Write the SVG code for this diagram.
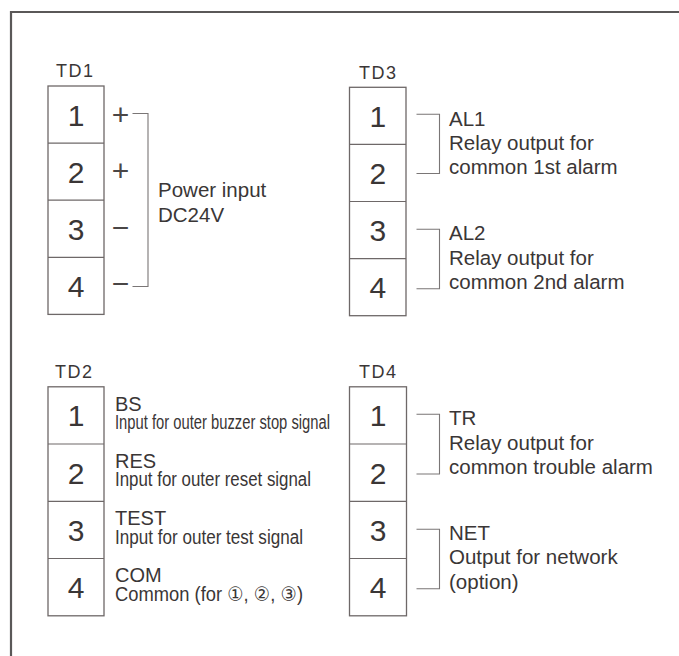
<svg xmlns="http://www.w3.org/2000/svg" width="679" height="656" viewBox="0 0 679 656">
<style>
.frame{fill:none;stroke:#5a5858;stroke-width:2.2}
.box{fill:#fff;stroke:#6e6868;stroke-width:1.3}
.div{stroke:#6e6868;stroke-width:1.2}
.br{fill:none;stroke:#7a7676;stroke-width:1.1}
text{font-family:"Liberation Sans",Arial,sans-serif;fill:#3a3636}
.lbl{font-size:18px;letter-spacing:1.5px}
.num{font-size:30px;text-anchor:middle}
.sgn{font-size:30px;text-anchor:middle;fill:#4a4646}
.t{font-size:20.5px}
.h{font-size:20px}
.d{font-size:20px}
.c{font-family:"Liberation Sans","DejaVu Sans",sans-serif}
</style>
<rect width="679" height="656" fill="#fff"/>
<path class="frame" d="M11,656 V12 H679"/>

<g id="td1">
<text class="lbl" x="56" y="77">TD1</text>
<rect class="box" x="48" y="86" width="56" height="228.4"/>
<line class="div" x1="48" y1="143.1" x2="104" y2="143.1"/>
<line class="div" x1="48" y1="200.2" x2="104" y2="200.2"/>
<line class="div" x1="48" y1="257.3" x2="104" y2="257.3"/>
<text class="num" x="76" y="125.5">1</text>
<text class="num" x="76" y="182.6">2</text>
<text class="num" x="76" y="239.7">3</text>
<text class="num" x="76" y="296.8">4</text>
<text class="sgn" x="120.5" y="124.5">+</text>
<text class="sgn" x="120.5" y="181">+</text>
<text class="sgn" x="120.5" y="237.5">−</text>
<text class="sgn" x="120.5" y="294">−</text>
<text class="t" x="158" y="197">Power input</text>
<text class="t" x="158" y="222">DC24V</text>
</g>

<g id="td3">
<text class="lbl" x="359" y="78.5">TD3</text>
<rect class="box" x="349.5" y="87.3" width="56.5" height="228.4"/>
<line class="div" x1="349.5" y1="144.4" x2="406" y2="144.4"/>
<line class="div" x1="349.5" y1="201.5" x2="406" y2="201.5"/>
<line class="div" x1="349.5" y1="258.6" x2="406" y2="258.6"/>
<text class="num" x="377.8" y="126.8">1</text>
<text class="num" x="377.8" y="183.9">2</text>
<text class="num" x="377.8" y="241">3</text>
<text class="num" x="377.8" y="298.1">4</text>
<text class="t" x="449" y="125.5">AL1</text>
<text class="t" x="449" y="150">Relay output for</text>
<text class="t" x="449" y="174.3">common 1st alarm</text>
<text class="t" x="449" y="240">AL2</text>
<text class="t" x="449" y="264.5">Relay output for</text>
<text class="t" x="449" y="288.8">common 2nd alarm</text>
</g>

<g id="td2">
<text class="lbl" x="55" y="377.5">TD2</text>
<rect class="box" x="48" y="386.8" width="56" height="229"/>
<line class="div" x1="48" y1="444" x2="104" y2="444"/>
<line class="div" x1="48" y1="501.3" x2="104" y2="501.3"/>
<line class="div" x1="48" y1="558.5" x2="104" y2="558.5"/>
<text class="num" x="76" y="426.3">1</text>
<text class="num" x="76" y="483.6">2</text>
<text class="num" x="76" y="540.8">3</text>
<text class="num" x="76" y="598">4</text>
<text class="h" x="115" y="410.5">BS</text>
<text class="d" x="115" y="429" textLength="215" lengthAdjust="spacingAndGlyphs">Input for outer buzzer stop signal</text>
<text class="h" x="115" y="467.7">RES</text>
<text class="d" x="115" y="486.2" textLength="196" lengthAdjust="spacingAndGlyphs">Input for outer reset signal</text>
<text class="h" x="115" y="525">TEST</text>
<text class="d" x="115" y="543.5" textLength="188" lengthAdjust="spacingAndGlyphs">Input for outer test signal</text>
<text class="h" x="115" y="582.2">COM</text>
<text class="d c" x="115" y="600.7" textLength="188" lengthAdjust="spacingAndGlyphs">Common (for ①, ②, ③)</text>
</g>

<g id="td4">
<text class="lbl" x="359" y="377.5">TD4</text>
<rect class="box" x="349.5" y="386.8" width="57" height="229"/>
<line class="div" x1="349.5" y1="444" x2="406.5" y2="444"/>
<line class="div" x1="349.5" y1="501.3" x2="406.5" y2="501.3"/>
<line class="div" x1="349.5" y1="558.5" x2="406.5" y2="558.5"/>
<text class="num" x="378" y="426.3">1</text>
<text class="num" x="378" y="483.6">2</text>
<text class="num" x="378" y="540.8">3</text>
<text class="num" x="378" y="598">4</text>
<text class="t" x="449" y="425">TR</text>
<text class="t" x="449" y="449.5">Relay output for</text>
<text class="t" x="449" y="474">common trouble alarm</text>
<text class="t" x="449" y="539.5">NET</text>
<text class="t" x="449" y="564">Output for network</text>
<text class="t" x="449" y="588.5">(option)</text>
</g>

<g id="connectors">
<path class="br" d="M132.5,113.5 H148 V286.5 H132.5"/>
<path class="br" d="M416.5,114.3 H439.5 V173.5 H416.5"/>
<path class="br" d="M416.5,229.3 H439.5 V288.7 H416.5"/>
<path class="br" d="M416.5,414.3 H439.5 V474 H416.5"/>
<path class="br" d="M416.5,529.3 H439.5 V588.7 H416.5"/>
</g>
</svg>
